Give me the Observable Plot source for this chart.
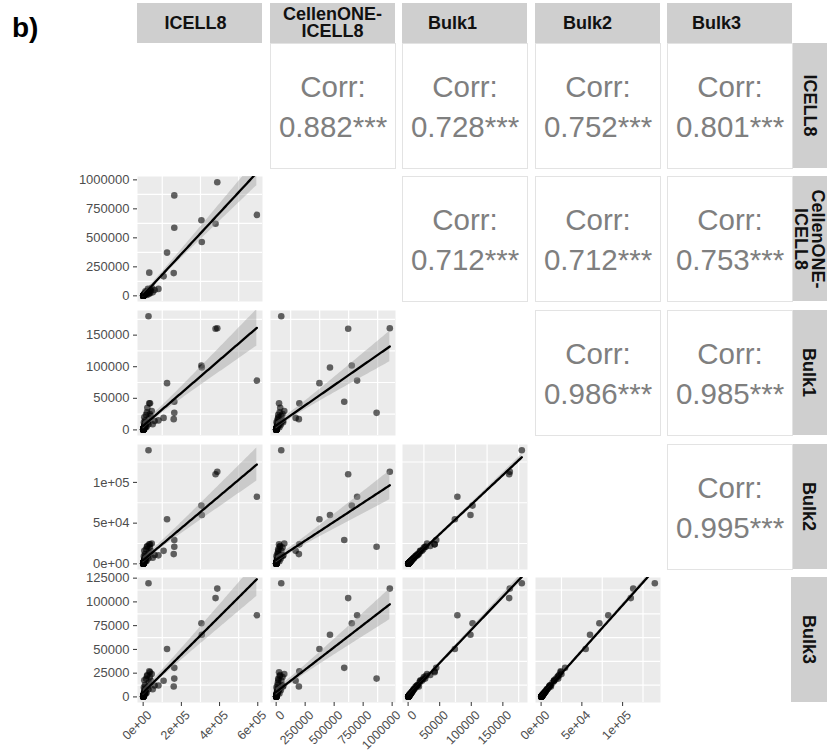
<!DOCTYPE html>
<html><head><meta charset="utf-8">
<script src="https://cdn.jsdelivr.net/npm/d3@7"></script>
<script src="https://cdn.jsdelivr.net/npm/@observablehq/plot@0.6"></script>
<style>
body{margin:0;background:#fff;font-family:"Liberation Sans",Arial,sans-serif;}
#root{position:relative;width:827px;height:752px;overflow:hidden;background:#fff;}
.abs{position:absolute;}
.strip{position:absolute;background:#cfcfcf;font-weight:bold;font-size:18px;color:#111;display:flex;align-items:center;justify-content:center;text-align:center;line-height:17px;white-space:pre-line;}
.rot{transform:rotate(90deg);white-space:pre;text-align:center;}
</style></head><body><div id="root"></div>
<script>
// ---------- data ----------
const variables = ["ICELL8", "CellenONE-ICELL8", "Bulk1", "Bulk2", "Bulk3"];
const stripLabels = ["ICELL8", "CellenONE-\nICELL8", "Bulk1", "Bulk2", "Bulk3"];

const icell8    = [28000, 388000, 379000, 595000, 163000, 163000, 305000, 307000, 125000, 160000, 107000, 32000,
  36000, 20000, 15000, 40000, 10000, 8000, 5000, 3000, 2000, 1000, 500, 12000, 25000, 30000, 45000, 6000, 18000, 22000,
  4000, 60000, 28000, 14000, 7000, 35000, 80000, 9000, 2500, 50000,
  1200, 800, 3500, 600, 2200, 4500, 900, 1500, 300, 2800,
  5200, 700, 1100, 400, 6500, 1800, 2500, 950, 3200, 150,
  7500, 1300, 2100, 500, 4100, 850, 1600, 250, 3800, 1050,
  5800, 650, 2400, 1400, 350, 2900, 750, 1900, 4800, 200,
  1250, 3100, 550, 2600, 1700, 450, 3600, 1000, 8500, 2000];
const cellenone = [44000, 980000, 621000, 698000, 866000, 587000, 652000, 464000, 373000, 196000, 168000, 200000,
  25000, 30000, 18000, 45000, 12000, 10000, 6000, 4000, 2000, 1000, 600, 40000, 60000, 15000, 70000, 20000, 8000, 35000,
  3000, 50000, 22000, 28000, 5000, 55000, 60000, 14000, 8000, 30000,
  1500, 2000, 5000, 900, 3000, 6000, 1200, 2500, 400, 4000,
  8000, 1000, 1800, 600, 9000, 2200, 3500, 1400, 4500, 300,
  11000, 1700, 3000, 800, 5500, 1100, 2400, 350, 5000, 1500,
  7500, 900, 3300, 2000, 500, 4200, 1000, 2600, 6500, 250,
  1900, 4300, 700, 3700, 2300, 600, 5200, 1300, 12000, 2800];
const bulk1     = [180000, 161000, 160000, 78000, 27000, 44500, 102000, 98700, 74000, 17000, 19000, 42000,
  42000, 28000, 24000, 22000, 15000, 10000, 6000, 3000, 1500, 800, 400, 8000, 12000, 18000, 30000, 20000, 5000, 35000,
  12000, 14000, 9000, 4000, 2000, 25000, 15000, 7000, 2500, 9000,
  1000, 600, 2500, 500, 1800, 3500, 700, 1200, 250, 2000,
  4000, 550, 900, 300, 5000, 1400, 2000, 750, 2600, 120,
  6000, 1000, 1700, 400, 3200, 650, 1300, 200, 3000, 800,
  4500, 500, 1900, 1100, 280, 2300, 600, 1500, 3800, 150,
  950, 2500, 420, 2100, 1350, 350, 2900, 780, 7000, 1600];
const bulk2     = [139500, 113000, 110000, 82400, 21000, 29400, 71500, 60000, 54700, 12000, 16000, 24000,
  24000, 21000, 18000, 16000, 12000, 8000, 5000, 2500, 1200, 600, 300, 6500, 10000, 14000, 25000, 16000, 4000, 22000,
  9500, 11000, 7000, 3200, 1600, 20000, 10500, 5500, 2000, 7500,
  800, 500, 2000, 420, 1450, 2800, 560, 950, 200, 1600,
  3300, 430, 720, 240, 4000, 1100, 1650, 600, 2050, 100,
  4800, 820, 1350, 320, 2600, 520, 1050, 160, 2400, 650,
  3600, 400, 1500, 880, 220, 1850, 480, 1200, 3000, 120,
  760, 2000, 340, 1700, 1080, 280, 2300, 620, 5600, 1300];
const bulk3     = [119700, 114000, 104000, 86000, 19300, 30600, 77500, 65500, 50500, 11000, 17000, 27000,
  26000, 22000, 19000, 17000, 12500, 8500, 5200, 2800, 1400, 700, 350, 7000, 11000, 15000, 24000, 17500, 4500, 23000,
  10000, 12000, 8000, 3500, 1800, 21000, 12000, 6000, 2200, 8000,
  850, 520, 2100, 440, 1500, 2900, 600, 1000, 210, 1700,
  3400, 460, 760, 250, 4200, 1150, 1700, 640, 2150, 105,
  5000, 860, 1400, 340, 2700, 550, 1100, 170, 2500, 690,
  3800, 420, 1600, 920, 230, 1950, 510, 1260, 3200, 125,
  800, 2100, 360, 1780, 1130, 300, 2450, 650, 5900, 1380];

const corrRow  = [0, 0, 0, 0, 1, 1, 1, 2, 2, 3];
const corrCol  = [1, 2, 3, 4, 2, 3, 4, 3, 4, 4];
const corrText = ["0.882***", "0.728***", "0.752***", "0.801***", "0.712***", "0.712***", "0.753***", "0.986***", "0.985***", "0.995***"];

const ticksICELL8 = [0, 200000, 400000, 600000];
const tickLabelsICELL8 = ["0e+00", "2e+05", "4e+05", "6e+05"];
const ticksCellenONE = [0, 250000, 500000, 750000, 1000000];
const tickLabelsCellenONE = ["0", "250000", "500000", "750000", "1000000"];
const ticksBulk1 = [0, 50000, 100000, 150000];
const tickLabelsBulk1 = ["0", "50000", "100000", "150000"];
const ticksBulk2 = [0, 50000, 100000];
const tickLabelsBulk2 = ["0e+00", "5e+04", "1e+05"];
const ticksBulk3 = [0, 25000, 50000, 75000, 100000, 125000];
const tickLabelsBulk3 = ["0", "25000", "50000", "75000", "100000", "125000"];

// ---------- layout ----------
const colX = [137, 270, 402, 535, 667];
const rowY = [43, 176, 310, 444, 577];
const PW = 125, PH = 125;
const stripShift = [-4, 0, -12, -10, -13];
const FONT = "'Liberation Sans', Arial, sans-serif";

const series = [icell8, cellenone, bulk1, bulk2, bulk3];
const ticks = [ticksICELL8, ticksCellenONE, ticksBulk1, ticksBulk2, ticksBulk3];
const tickLabels = [tickLabelsICELL8, tickLabelsCellenONE, tickLabelsBulk1, tickLabelsBulk2, tickLabelsBulk3];

const root = document.getElementById("root");

function domainOf(v) {
  const lo = d3.min(v), hi = d3.max(v), r = hi - lo;
  return [lo - 0.05 * r, hi + 0.05 * r];
}
function minors(t, dom) {
  const step = t[1] - t[0], out = [];
  for (let k = -1; k < t.length; k++) {
    const m = t[0] + (k + 0.5) * step;
    if (m > dom[0] && m < dom[1]) out.push(m);
  }
  return out;
}
function smooth(xs, ys) {
  const n = xs.length;
  const mx = d3.mean(xs), my = d3.mean(ys);
  let sxx = 0, sxy = 0;
  for (let k = 0; k < n; k++) { sxx += (xs[k] - mx) ** 2; sxy += (xs[k] - mx) * (ys[k] - my); }
  const b = sxy / sxx, a = my - b * mx;
  let sse = 0;
  for (let k = 0; k < n; k++) sse += (ys[k] - a - b * xs[k]) ** 2;
  const s = Math.sqrt(sse / (n - 2));
  const df = n - 2, t = 1.96 + 2.4 / df;
  const lo = d3.min(xs), hi = d3.max(xs);
  return d3.range(81).map(k => {
    const x = lo + (hi - lo) * k / 80;
    const f = a + b * x;
    const se = s * Math.sqrt(1 / n + (x - mx) ** 2 / sxx);
    return {x, fit: f, lo: f - t * se, hi: f + t * se};
  });
}

function place(el, left, top) {
  const d = document.createElement("div");
  d.className = "abs";
  d.style.left = left + "px";
  d.style.top = top + "px";
  d.appendChild(el);
  root.appendChild(d);
}

// "b)" label
const tag = document.createElement("div");
tag.className = "abs";
tag.style.cssText = "left:12px;top:14px;font-weight:bold;font-size:28px;line-height:28px;color:#000;";
tag.textContent = "b)";
root.appendChild(tag);

// top strips
variables.forEach((v, j) => {
  const s = document.createElement("div");
  s.className = "strip";
  s.style.left = colX[j] + "px"; s.style.top = "3px";
  s.style.width = PW + "px"; s.style.height = "40px";
  const sp = document.createElement("span");
  sp.style.position = "relative"; sp.style.left = stripShift[j] + "px";
  sp.textContent = stripLabels[j];
  s.appendChild(sp);
  root.appendChild(s);
});
// right strips
variables.forEach((v, i) => {
  const s = document.createElement("div");
  s.className = "strip";
  s.style.left = "791px"; s.style.top = rowY[i] + "px";
  s.style.width = "36px"; s.style.height = PH + "px";
  const sp = document.createElement("div");
  sp.className = "rot";
  sp.textContent = stripLabels[i];
  s.appendChild(sp);
  root.appendChild(s);
});

// correlation panels
corrText.forEach((txt, k) => {
  const el = Plot.plot({
    width: PW, height: PH, margin: 0,
    style: {fontFamily: FONT, background: "transparent", overflow: "visible"},
    marks: [
      Plot.frame({stroke: "#e3e3e3", fill: "#fff"}),
      Plot.text(["Corr:"], {text: d => d, frameAnchor: "middle", dy: -18, fontSize: 29.5, fill: "#7f7f7f"}),
      Plot.text([txt], {text: d => d, frameAnchor: "middle", dy: 22, fontSize: 29.5, fill: "#7f7f7f"})
    ]
  });
  place(el, colX[corrCol[k]], rowY[corrRow[k]]);
});

// scatter panels
for (let i = 1; i < 5; i++) {
  for (let j = 0; j < i; j++) {
    const ml = j === 0 ? 80 : 0, mb = i === 4 ? 50 : 0;
    const xs = series[j], ys = series[i];
    const xd = domainOf(xs), yd = domainOf(ys);
    const pts = xs.map((x, k) => ({x, y: ys[k]}));
    const band = smooth(xs, ys);
    const marks = [
      Plot.frame({fill: "#ebebeb", stroke: null}),
      Plot.ruleX(minors(ticks[j], xd), {stroke: "#fff", strokeWidth: 1.2}),
      Plot.ruleY(minors(ticks[i], yd), {stroke: "#fff", strokeWidth: 1.2}),
      Plot.dot(pts, {x: "x", y: "y", r: 3.3, fill: "#000", fillOpacity: 0.6, stroke: null}),
      Plot.areaY(band, {x: "x", y1: "lo", y2: "hi", fill: "#999", fillOpacity: 0.4, clip: true}),
      Plot.line(band, {x: "x", y: "fit", stroke: "#000", strokeWidth: 2.3, clip: true})
    ];
    if (j === 0) {
      const lab = new Map(ticks[i].map((t, k) => [t, tickLabels[i][k]]));
      marks.push(Plot.axisY(ticks[i], {label: null, tickSize: 4, tickPadding: 4, fontSize: 13, stroke: "#333", fill: "#4d4d4d", tickFormat: d => lab.get(d)}));
    }
    if (i === 4) {
      const lab = new Map(ticks[j].map((t, k) => [t, tickLabels[j][k]]));
      marks.push(Plot.axisX(ticks[j], {label: null, tickSize: 4, stroke: "#333", tickFormat: () => ""}));
      marks.push(Plot.text(ticks[j], {x: d => d, frameAnchor: "bottom", text: d => lab.get(d), rotate: -45, textAnchor: "end", lineAnchor: "top", dx: 3, dy: 7, fontSize: 12.5, fill: "#4d4d4d"}));
    }
    const el = Plot.plot({
      width: PW + ml, height: PH + mb,
      marginLeft: ml, marginRight: 0, marginTop: 0, marginBottom: mb,
      x: {domain: xd, axis: null},
      y: {domain: yd, axis: null},
      style: {fontFamily: FONT, fontSize: "13px", color: "#4d4d4d", background: "transparent", overflow: "visible"},
      marks
    });
    place(el, colX[j] - ml, rowY[i]);
  }
}
</script></body></html>
